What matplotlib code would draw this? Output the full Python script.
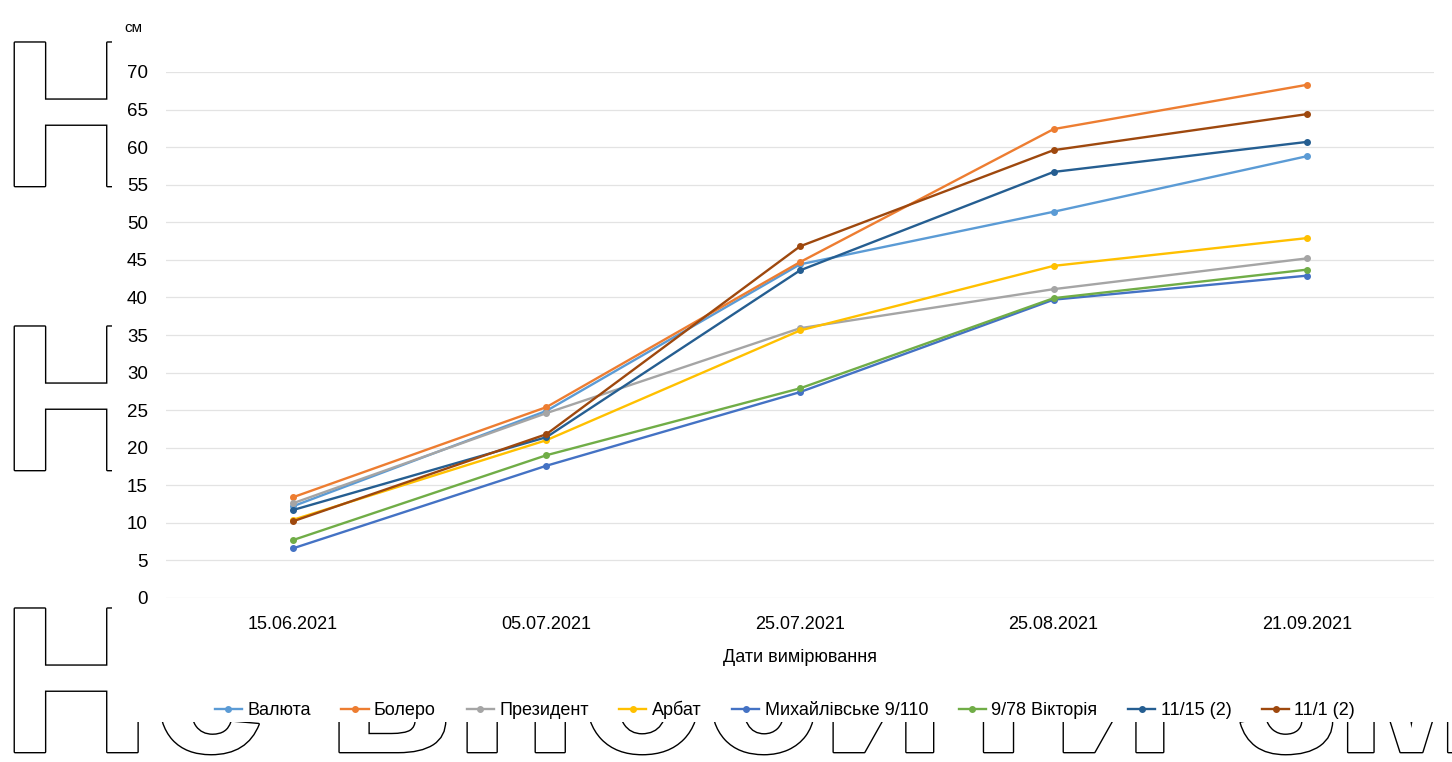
import matplotlib
matplotlib.use('Agg')
import matplotlib.pyplot as plt
import matplotlib.patheffects as pe
from matplotlib import font_manager
import numpy as np

# measurement dates and plant height (cm) per variety
dates = ['15.06.2021', '05.07.2021', '25.07.2021', '25.08.2021', '21.09.2021']
valiuta = [12.2, 24.9, 44.4, 51.4, 58.8]
bolero = [13.4, 25.4, 44.7, 62.4, 68.3]
prezydent = [12.6, 24.6, 35.9, 41.1, 45.2]
arbat = [10.4, 21.0, 35.6, 44.2, 47.9]
mykhailivske = [6.6, 17.6, 27.4, 39.7, 42.9]
viktoriia = [7.7, 19.0, 27.9, 39.9, 43.7]
v11_15 = [11.7, 21.4, 43.6, 56.7, 60.7]
v11_1 = [10.2, 21.8, 46.8, 59.6, 64.4]

names = ['Валюта', 'Болеро', 'Президент', 'Арбат', 'Михайлівське 9/110',
         '9/78 Вікторія', '11/15 (2)', '11/1 (2)']
series = [valiuta, bolero, prezydent, arbat, mykhailivske, viktoriia, v11_15, v11_1]
colors = ['#5B9BD5', '#ED7D31', '#A5A5A5', '#FFC000', '#4472C4',
          '#70AD47', '#255E91', '#9E480E']

W, H = 1452, 762
installed = {f.name for f in font_manager.fontManager.ttflist}
base_font = 'Liberation Sans' if 'Liberation Sans' in installed else 'DejaVu Sans'
plt.rcParams['font.family'] = [base_font, 'DejaVu Sans']

fig = plt.figure(figsize=(W / 100, H / 100), dpi=100)

# outlined background lettering, mostly hidden behind the chart panel
for row_bottom in [186, 470, 752]:
    fig.text(1 / W, 1 - row_bottom / H, 'Не вносити зміни', fontsize=150,
             fontweight='bold', color='white', ha='left', va='baseline', zorder=-3,
             path_effects=[pe.withStroke(linewidth=2.0, foreground='black')])

# white chart panel
panel = fig.add_axes([112 / W, 1 - 722 / H, 1 - 112 / W, 722 / H], zorder=-1)
panel.set_facecolor('white')
panel.set_xticks([])
panel.set_yticks([])
for s in panel.spines.values():
    s.set_visible(False)

ax = fig.add_axes([166 / W, 1 - 598 / H, (1434 - 166) / W, (598 - 72) / H], zorder=1)
ax.set_facecolor('none')

x = np.arange(len(dates))
for vals, name, c in zip(series, names, colors):
    ax.plot(x, vals, color=c, lw=1.7, marker='o', markersize=4, label=name)

ax.set_xlim(-0.5, len(dates) - 0.5)
ax.set_ylim(0, 70)
ax.set_yticks(np.arange(0, 71, 5))
ax.set_xticks(x)
ax.set_xticklabels(dates)
ax.grid(axis='y', color='#e3e3e3', lw=0.9)
ax.set_axisbelow(True)
for s in ax.spines.values():
    s.set_visible(False)
ax.tick_params(axis='x', length=0, pad=13, labelsize=13)
ax.tick_params(axis='y', length=0, pad=13, labelsize=13.5)

fig.text(133 / W, 1 - 28 / H, 'см', fontsize=11, ha='center', va='center')
fig.text(800 / W, 1 - 657 / H, 'Дати вимірювання', fontsize=13, ha='center', va='center')

fig.legend(loc='center', bbox_to_anchor=(785 / W, 1 - 710 / H), ncol=8, frameon=False,
           fontsize=13, handlelength=1.5, handletextpad=0.3, columnspacing=1.7)

fig.savefig('out.png', dpi=100, facecolor='white')
